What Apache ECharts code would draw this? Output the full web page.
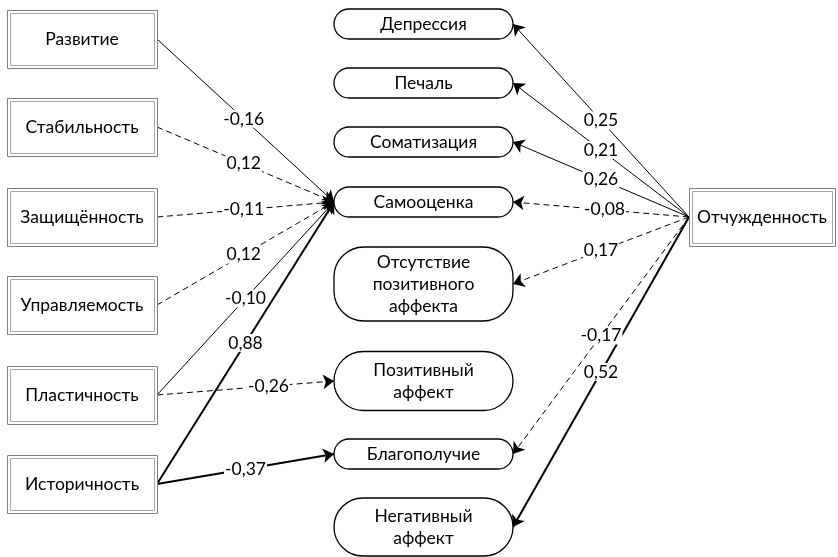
<!DOCTYPE html>
<html><head><meta charset="utf-8">
<script src="https://cdn.jsdelivr.net/npm/echarts@6/dist/echarts.min.js"></script>
<style>html,body{margin:0;padding:0;background:#fff}#c{width:838px;height:557px}</style>
</head><body><div id="c"></div>
<script>
// ---- data ----
const predictors = ['Развитие', 'Стабильность', 'Защищённость', 'Управляемость', 'Пластичность', 'Историчность'];
const outcomes = ['Депрессия', 'Печаль', 'Соматизация', 'Самооценка', 'Отсутствие\nпозитивного\nаффекта', 'Позитивный\nаффект', 'Благополучие', 'Негативный\nаффект'];
const sourceRight = ['Отчужденность'];
// edges: source (P# = predictor, A = Отчужденность), target outcome index, coefficient, significance style
const edgeSource = ['P0', 'P1', 'P2', 'P3', 'P4', 'P5', 'P4', 'P5', 'A', 'A', 'A', 'A', 'A', 'A', 'A'];
const edgeTarget = [3, 3, 3, 3, 3, 3, 5, 6, 0, 1, 2, 3, 4, 6, 7];
const edgeCoef = [-0.16, 0.12, -0.11, 0.12, -0.10, 0.88, -0.26, -0.37, 0.25, 0.21, 0.26, -0.08, 0.17, -0.17, 0.52];
const edgeKind = ['solid', 'dashed', 'dashed', 'dashed', 'solid', 'thick', 'dashed', 'thick', 'solid', 'solid', 'solid', 'dashed', 'dashed', 'dashed', 'thick'];

// ---- layout (positions / sizes) ----
const W = 838, H = 557;
const leftBox = { x0: 7, x1: 157, h: 58 };
const leftCy = [39, 127, 217, 305, 395, 484];
const midBox = { x0: 334, x1: 513 };
const midCy = [24, 83, 142, 202, 284, 381, 454, 527];
const midH = [30, 30, 30, 30, 74, 59, 30, 58];
const rightBox = { x0: 689, x1: 835, cy: 217, h: 58 };
const labelT = [0.49, 0.49, 0.49, 0.49, 0.5, 0.5, 0.63, 0.5, 0.5, 0.5, 0.5, 0.48, 0.5, 0.5, 0.5];
const FONT = '17.5px Lato';

function fmt(v) { return v.toFixed(2).replace('.', ','); }

// node data for custom series: [cx, cy, w, h, kindIndex, label]
const nodeData = [];
predictors.forEach((n, i) => nodeData.push([(leftBox.x0 + leftBox.x1) / 2, leftCy[i], leftBox.x1 - leftBox.x0, leftBox.h, 0, n]));
outcomes.forEach((n, i) => nodeData.push([(midBox.x0 + midBox.x1) / 2, midCy[i], midBox.x1 - midBox.x0, midH[i], 1, n]));
sourceRight.forEach(n => nodeData.push([(rightBox.x0 + rightBox.x1) / 2, rightBox.cy, rightBox.x1 - rightBox.x0, rightBox.h, 0, n]));

const lineData = [];
const labelData = [];
edgeSource.forEach((s, i) => {
  let p0, p1;
  const ti = edgeTarget[i];
  if (s === 'A') {
    p0 = [rightBox.x0, rightBox.cy];
    p1 = [midBox.x1, midCy[ti]];
  } else {
    p0 = [leftBox.x1, leftCy[+s.slice(1)]];
    p1 = [midBox.x0, midCy[ti]];
  }
  const k = edgeKind[i];
  lineData.push({
    coords: [p0, p1],
    lineStyle: {
      color: '#000',
      opacity: 1,
      width: k === 'thick' ? 2 : 1,
      type: k === 'dashed' ? [6, 4] : 'solid'
    }
  });
  const t = labelT[i];
  labelData.push([p0[0] + (p1[0] - p0[0]) * t, p0[1] + (p1[1] - p0[1]) * t, fmt(edgeCoef[i])]);
});

const chart = echarts.init(document.getElementById('c'), null, { renderer: 'canvas' });
chart.setOption({
  animation: false,
  backgroundColor: '#fff',
  grid: { left: 0, right: 0, top: 0, bottom: 0 },
  xAxis: { type: 'value', min: 0, max: W, show: false },
  yAxis: { type: 'value', min: 0, max: H, inverse: true, show: false },
  series: [
    {
      type: 'lines',
      coordinateSystem: 'cartesian2d',
      silent: true,
      z: 2,
      symbol: ['none', 'arrow'],
      symbolSize: [9, 11],
      lineStyle: { opacity: 1, color: '#000' },
      data: lineData
    },
    {
      type: 'custom',
      silent: true,
      z: 3,
      data: labelData,
      renderItem: function (params, api) {
        const p = api.coord([api.value(0), api.value(1)]);
        return {
          type: 'text',
          x: p[0], y: p[1],
          style: {
            text: labelData[params.dataIndex][2],
            font: FONT, fill: '#000',
            align: 'center', verticalAlign: 'middle',
            backgroundColor: '#fff', padding: [0, 1]
          }
        };
      }
    },
    {
      type: 'custom',
      silent: true,
      z: 4,
      data: nodeData,
      renderItem: function (params, api) {
        const c = api.coord([api.value(0), api.value(1)]);
        const s = api.size([api.value(2), api.value(3)]);
        const w = s[0], h = Math.abs(s[1]);
        const x = c[0] - w / 2, y = c[1] - h / 2;
        const kind = api.value(4);
        const label = nodeData[params.dataIndex][5];
        const children = [];
        if (kind === 0) {
          children.push({ type: 'rect', shape: { x: x + 0.5, y: y + 0.5, width: w, height: h }, style: { fill: '#fff', stroke: '#7f7f7f', lineWidth: 1 } });
          children.push({ type: 'rect', shape: { x: x + 3.5, y: y + 3.5, width: w - 6, height: h - 6 }, style: { fill: 'none', stroke: '#a6a6a6', lineWidth: 1 } });
        } else {
          children.push({ type: 'rect', shape: { x: x, y: y, width: w, height: h, r: Math.min(h / 2, 30) }, style: { fill: '#fff', stroke: '#000', lineWidth: 1.3 } });
        }
        children.push({ type: 'text', style: { text: label, x: c[0], y: c[1], font: FONT, fill: '#000', align: 'center', verticalAlign: 'middle', lineHeight: 22 } });
        return { type: 'group', children: children };
      }
    }
  ]
});
</script>
</body></html>
